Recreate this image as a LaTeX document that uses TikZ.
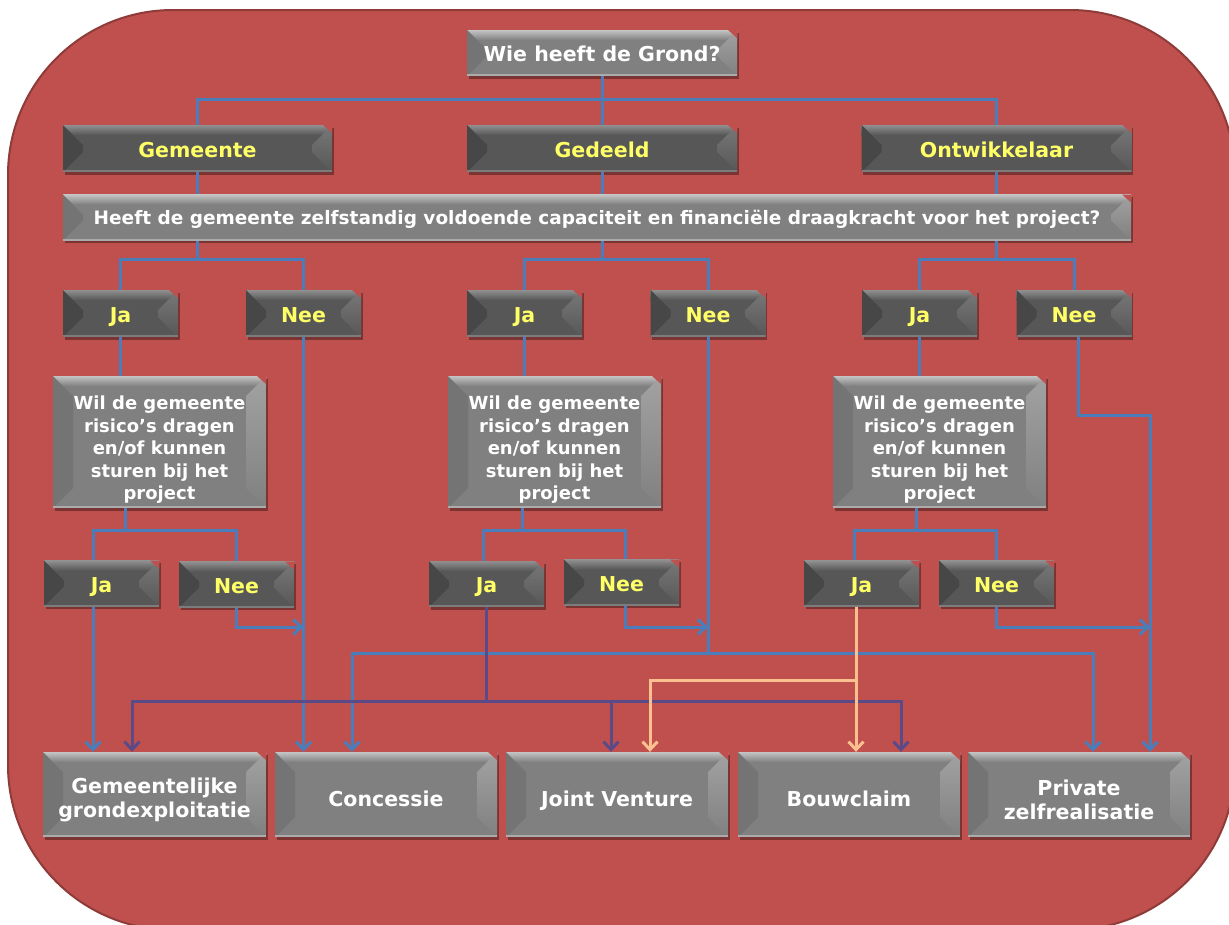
\documentclass[tikz,border=0pt]{standalone}
\usepackage{fontspec}
\setmainfont{DejaVu Sans}
\usetikzlibrary{arrows.meta,shadows,calc}
\definecolor{bgred}{HTML}{C0504D}
\definecolor{bgedge}{HTML}{8E3B39}
\definecolor{lnblue}{HTML}{4A7EBB}
\definecolor{lnpurple}{HTML}{5A4A88}
\definecolor{lnorange}{HTML}{FAC090}
\definecolor{ytxt}{HTML}{FFFF66}
\definecolor{Lbase}{HTML}{808080}
\definecolor{Ltop}{HTML}{C4C4C4}
\definecolor{Lleft}{HTML}{747474}
\definecolor{Lright}{HTML}{A2A2A2}
\definecolor{Lbot}{HTML}{ABABAB}
\definecolor{Dbase}{HTML}{575757}
\definecolor{Dtop}{HTML}{909090}
\definecolor{Dleft}{HTML}{474747}
\definecolor{Dright}{HTML}{787878}
\definecolor{Dbot}{HTML}{7C7C7C}

\newcommand\mybevel[6]{%
  \path (path picture bounding box.south west) coordinate (bbA)
        (path picture bounding box.north east) coordinate (bbB)
        (path picture bounding box.north west) coordinate (bbC)
        (path picture bounding box.south east) coordinate (bbD);
  \shade[top color=#2, bottom color=#1] (bbC) rectangle ([yshift=-10pt]bbB);
  \fill[#3] (bbC) -- ([shift={(20pt,-20pt)}]bbC) -- ([shift={(20pt,20pt)}]bbA) -- (bbA) -- cycle;
  \shade[top color=#4, bottom color=#1] (bbB) -- ([shift={(-20pt,-20pt)}]bbB) -- ([shift={(-20pt,20pt)}]bbD) -- (bbD) -- cycle;
  \fill[#5] (bbA) rectangle ([yshift=2pt]bbD);
  \fill[#6] (bbB) -- ([xshift=-9pt]bbB) -- ([yshift=-8pt]bbB) -- cycle;
}

\tikzset{
  bx/.style={rectangle, inner sep=0pt, align=center,
    font=\bfseries\fontsize{20.5}{24}\selectfont,
    drop shadow={shadow xshift=1.5pt, shadow yshift=-2.5pt, opacity=0.35, fill=black}},
  lbox/.style={bx, fill=Lbase, text=white,
    path picture={\mybevel{Lbase}{Ltop}{Lleft}{Lright}{Lbot}{bgred}}},
  dbox/.style={bx, fill=Dbase, text=ytxt,
    path picture={\mybevel{Dbase}{Dtop}{Dleft}{Dright}{Dbot}{bgred}}},
  sz/.style 2 args={minimum width=#1pt, minimum height=#2pt},
  one/.style={text height=17.8pt, text depth=0pt},
  onelow/.style={text height=23.8pt, text depth=0pt},
  conn/.style={line width=3pt, draw=lnblue},
  pconn/.style={line width=3pt, draw=lnpurple},
  oconn/.style={line width=3pt, draw=lnorange},
  tip/.style={-{Straight Barb[length=8pt,width=15pt]}},
  wil/.style={font=\bfseries\fontsize{18}{22.5}\selectfont},
}
\newcommand\wiltxt{\rule{0pt}{29.7pt}Wil de gemeente\\risico’s dragen\\en/of kunnen\\sturen bij het\\project}

\begin{document}
\begin{tikzpicture}[x=1pt,y=-1pt]
\useasboundingbox (0,0) rectangle (553.05,415.8);
\begin{scope}[transform canvas={scale=0.45}]
\clip (0,0) rectangle (1229,924);
\fill[white] (0,0) rectangle (1229,924);
\draw[bgedge, fill=bgred, line width=2pt, rounded corners=165pt] (8,10) rectangle (1235,930);

% nodes
\node[lbox, one, sz={270}{46}] (q0) at (602,53) {Wie heeft de Grond?};
\node[dbox, one, sz={269}{47}] (g1) at (197.5,148.5) {Gemeente};
\node[dbox, one, sz={270}{47}] (g2) at (602,148.5) {Gedeeld};
\node[dbox, one, sz={270}{47}] (g3) at (996.5,148.5) {Ontwikkelaar};
\node[lbox, sz={1068}{46}, font=\bfseries\fontsize{18.5}{22}\selectfont, text height=14.5pt, text depth=0pt] (q1) at (597,217.5)
  {Heeft de gemeente zelfstandig voldoende capaciteit en financiële draagkracht voor het project?};

\node[dbox, one, sz={115}{47}] (a1) at (120.5,313.5) {Ja};
\node[dbox, one, sz={115}{47}] (n1) at (303.5,313.5) {Nee};
\node[dbox, one, sz={115}{47}] (a2) at (524.5,313.5) {Ja};
\node[dbox, one, sz={115}{47}] (n2) at (708,313.5) {Nee};
\node[dbox, one, sz={115}{47}] (a3) at (919.5,313.5) {Ja};
\node[dbox, one, sz={115}{47}] (n3) at (1074,313.5) {Nee};

\node[lbox, wil, sz={213}{132}] (w1) at (159.5,442) {\wiltxt};
\node[lbox, wil, sz={213}{132}] (w2) at (554.5,442) {\wiltxt};
\node[lbox, wil, sz={213}{132}] (w3) at (939.5,442) {\wiltxt};

\node[dbox, one, sz={115}{46}] (b1) at (101.5,583.5) {Ja};
\node[dbox, one, sz={115}{46}] (c1) at (236.5,584.5) {Nee};
\node[dbox, one, sz={115}{46}] (b2) at (486.5,584) {Ja};
\node[dbox, one, sz={115}{46}] (c2) at (621.5,582.5) {Nee};
\node[dbox, one, sz={115}{46}] (b3) at (861.5,583.5) {Ja};
\node[dbox, one, sz={115}{46}] (c3) at (996.5,583.5) {Nee};

\node[lbox, sz={223}{85}] (r1) at (154.5,794.5) {\rule{0pt}{26pt}Gemeentelijke\\grondexploitatie};
\node[lbox, onelow, sz={222}{85}] (r2) at (386,794.5) {Concessie};
\node[lbox, onelow, sz={222}{85}] (r3) at (617,794.5) {Joint Venture};
\node[lbox, onelow, sz={222}{85}] (r4) at (849,794.5) {Bouwclaim};
\node[lbox, sz={222}{85}] (r5) at (1079,794.5) {\rule{0pt}{26pt}Private\\zelfrealisatie};

% top connectors
\coordinate (j0) at (602,99);
\draw[conn] (q0.south) -- (g2.north);
\draw[conn] (g1.north) |- (j0) -| (g3.north);
\draw[conn] (g1.south) -- (g1.south |- q1.north);
\draw[conn] (g2.south) -- (g2.south |- q1.north);
\draw[conn] (g3.south) -- (g3.south |- q1.north);

\coordinate (k1) at (197.5,259);
\coordinate (k2) at (602,259);
\coordinate (k3) at (996.5,259);
\draw[conn] (k1 |- q1.south) -- (k1);
\draw[conn] (k2 |- q1.south) -- (k2);
\draw[conn] (k3 |- q1.south) -- (k3);
\draw[conn] (a1.north) |- (k1) -| (n1.north);
\draw[conn] (a2.north) |- (k2) -| (n2.north);
\draw[conn] (a3.north) |- (k3) -| (n3.north);

\draw[conn] (a1.south) -- (a1.south |- w1.north);
\draw[conn] (a2.south) -- (a2.south |- w2.north);
\draw[conn] (a3.south) -- (a3.south |- w3.north);

\coordinate (m1) at (125,530);
\coordinate (m2) at (522,530);
\coordinate (m3) at (916,530);
\draw[conn] (m1 |- w1.south) -- (m1);
\draw[conn] (m2 |- w2.south) -- (m2);
\draw[conn] (m3 |- w3.south) -- (m3);
\draw[conn] ([xshift=-8.5pt]b1.north) |- (m1) -| (c1.north);
\draw[conn] ([xshift=-3.5pt]b2.north) |- (m2) -| ([xshift=3.5pt]c2.north);
\draw[conn] ([xshift=-7.5pt]b3.north) |- (m3) -| (c3.north);

% bottom blue connectors
\draw[conn, tip] ([xshift=-8.5pt]b1.south) -- ([xshift=-8.5pt]b1.south |- r1.north);
\draw[conn, tip] (n1.south) -- (n1.south |- r2.north);
\coordinate (e1) at (303.5,627);
\draw[conn, tip] (c1.south) |- (e1);
\coordinate (h2) at (708,653);
\draw[conn] (n2.south) -- (h2);
\draw[conn, tip] (h2) -| ([xshift=-34pt]r2.north);
\draw[conn, tip] (h2) -| ([xshift=14pt]r5.north);
\coordinate (e2) at (708,627);
\draw[conn, tip] ([xshift=3.5pt]c2.south) |- (e2);
\coordinate (v3) at (1150,415);
\draw[conn, tip] ([xshift=4pt]n3.south) |- (v3) -- (v3 |- r5.north);
\coordinate (e3) at (1150,627);
\draw[conn, tip] (c3.south) |- (e3);

% purple connectors
\coordinate (p) at (486.5,701);
\draw[pconn] (b2.south) -- (p);
\draw[pconn, tip] (p) -| ([xshift=-22.5pt]r1.north);
\draw[pconn, tip] (p) -| ([xshift=-6pt]r3.north);
\draw[pconn, tip] (p) -| ([xshift=52pt]r4.north);

% orange connectors
\coordinate (o) at (856,680);
\draw[oconn, tip] ([xshift=-5.5pt]b3.south) -- ([xshift=-5.5pt]b3.south |- r4.north);
\draw[oconn, tip] (o) -| ([xshift=33pt]r3.north);
\end{scope}
\end{tikzpicture}
\end{document}
